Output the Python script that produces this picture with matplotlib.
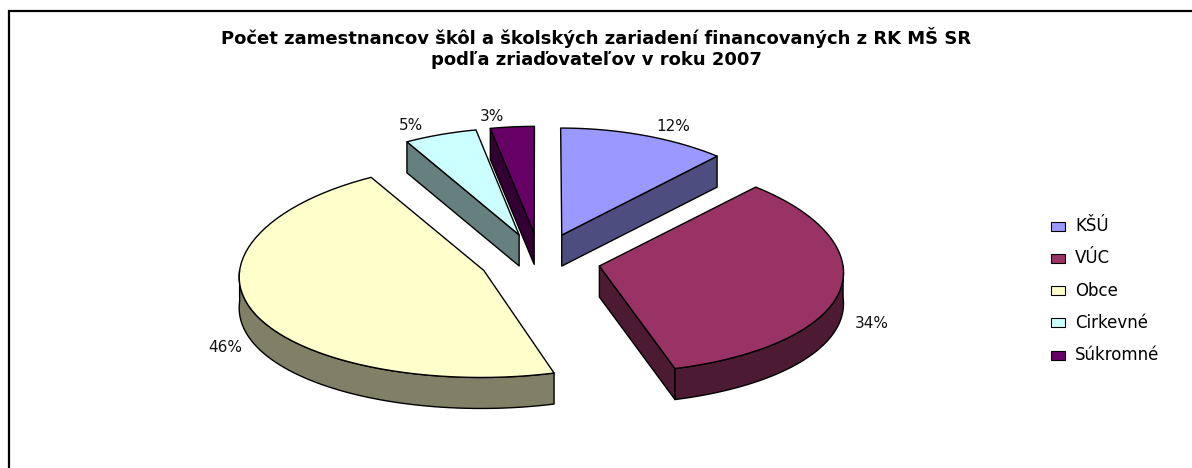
import numpy as np
import matplotlib.pyplot as plt
from matplotlib.patches import Polygon

# data (shares in %, labels show them rounded)
labels = ['KŠÚ', 'VÚC', 'Obce', 'Cirkevné', 'Súkromné']
shares = [11.8, 33.6, 46.4, 5.1, 3.1]
top_colors = ['#9999FF', '#993366', '#FFFFCC', '#CCFFFF', '#660066']
side_colors = ['#4D4D80', '#4D1A33', '#808066', '#668080', '#330033']
title = 'Počet zamestnancov škôl a školských zariadení financovaných z RK MŠ SR\npodľa zriaďovateľov v roku 2007'

# pie geometry (pixels, y pointing down)
cx, cy = 540, 260
rx, ry = 243, 107
persp = 0.05        # far side drawn slightly narrower
depth = 31
explode = 0.25
label_a, label_b = 262, 117

plt.rcParams['font.family'] = ['DejaVu Sans']

fig = plt.figure(figsize=(11.92, 4.68), dpi=100)
ax = fig.add_axes([0, 0, 1, 1])
ax.set_xlim(0, 1192)
ax.set_ylim(468, 0)
ax.axis('off')


def proj(u, v):
    return cx + rx * u * (1 - persp * v), cy - ry * v


def arc(ou, ov, a0, a1, n=60):
    t = np.radians(np.linspace(a0, a1, n))
    return ou + np.sin(t), ov + np.cos(t)


fracs = np.array(shares) / sum(shares)
edges = np.concatenate([[0], np.cumsum(fracs) * 360])

slices = []
for i in range(len(shares)):
    a0, a1 = edges[i], edges[i + 1]
    m = np.radians((a0 + a1) / 2)
    ou, ov = explode * np.sin(m), explode * np.cos(m)
    slices.append((i, a0, a1, m, ou, ov))

# far slices first
slices.sort(key=lambda s: -s[5])

for i, a0, a1, m, ou, ov in slices:
    ec = 'black'
    lw = 1.0
    # radial walls that face the viewer
    for ang, visible in ((a0, np.sin(np.radians(a0)) < 0), (a1, np.sin(np.radians(a1)) > 0)):
        if not visible:
            continue
        p1 = proj(ou, ov)
        p2 = proj(ou + np.sin(np.radians(ang)), ov + np.cos(np.radians(ang)))
        quad = [p1, p2, (p2[0], p2[1] + depth), (p1[0], p1[1] + depth)]
        ax.add_patch(Polygon(quad, closed=True, fc=side_colors[i], ec=ec, lw=lw, joinstyle='round'))
    # outer curved wall, front half only
    lo, hi = max(a0, 90), min(a1, 270)
    if hi > lo:
        u, v = arc(ou, ov, lo, hi)
        xt, yt = proj(u, v)
        pts = list(zip(xt, yt)) + list(zip(xt[::-1], yt[::-1] + depth))
        ax.add_patch(Polygon(pts, closed=True, fc=side_colors[i], ec=ec, lw=lw, joinstyle='round'))
    # top face
    u, v = arc(ou, ov, a0, a1)
    xt, yt = proj(u, v)
    pts = [proj(ou, ov)] + list(zip(xt, yt))
    ax.add_patch(Polygon(pts, closed=True, fc=top_colors[i], ec=ec, lw=lw, joinstyle='round'))

    # percentage label
    sx, sy = proj(ou, ov)
    s = np.sin(m)
    lx = sx + label_a * s + 17 * np.sign(s)
    ly = sy - label_b * np.cos(m) + (depth if np.cos(m) < 0 else 0)
    ax.text(lx, ly, f'{round(shares[i])}%', ha='center', va='center', fontsize=11, color='#111111')

ax.text(596, 48, title, ha='center', va='center', fontsize=13, fontweight='bold',
        linespacing=1.25)

# legend
for k, name in enumerate(labels):
    ly = 226 + k * 32.3
    ax.add_patch(plt.Rectangle((1051, ly - 4.5), 14, 9, fc=top_colors[k], ec='black', lw=0.8))
    ax.text(1075, ly, name, ha='left', va='center', fontsize=12)

# chart area border
ax.plot([9, 9, 1192], [468, 11, 11], color='black', lw=1.6, solid_joinstyle='miter')

fig.savefig('out.png', dpi=100)
